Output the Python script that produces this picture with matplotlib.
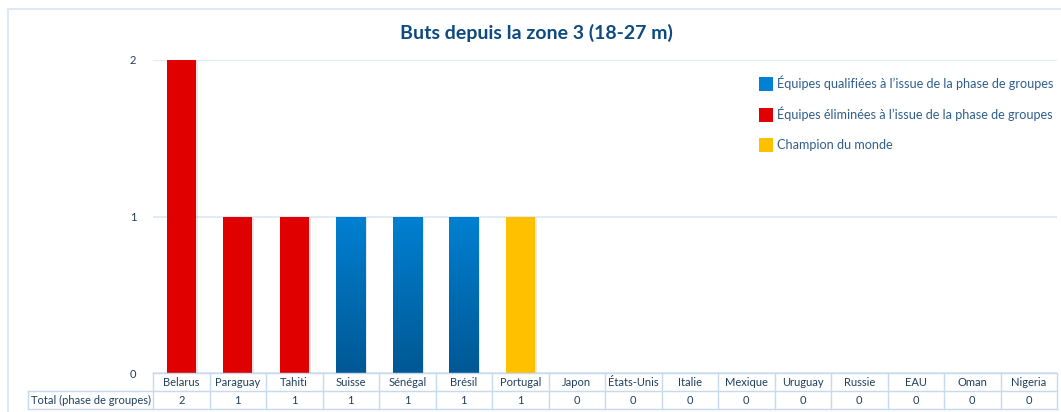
import numpy as np
import matplotlib
matplotlib.use("Agg")
import matplotlib.pyplot as plt
from matplotlib.patches import Patch
from matplotlib.lines import Line2D
from matplotlib import patheffects as pe
import matplotlib.transforms as mtransforms

# Data
countries = ["Belarus", "Paraguay", "Tahiti", "Suisse", "Sénégal", "Brésil", "Portugal",
             "Japon", "États-Unis", "Italie", "Mexique", "Uruguay", "Russie", "EAU",
             "Oman", "Nigeria"]
goals = [2, 1, 1, 1, 1, 1, 1, 0, 0, 0, 0, 0, 0, 0, 0, 0]
# 'e' = éliminée, 'q' = qualifiée, 'c' = champion
status = ["e", "e", "e", "q", "q", "q", "c", "q", "q", "e", "q", "q", "q", "e", "e", "e"]
title = "Buts depuis la zone 3 (18-27 m)"
row_label = "Total (phase de groupes)"
legend_labels = ["Équipes qualifiées à l\u2019issue de la phase de groupes",
                 "Équipes éliminées à l\u2019issue de la phase de groupes",
                 "Champion du monde"]

RED = "#e00000"
BLUE_TOP = "#0080d2"
BLUE_BOT = "#005894"
GOLD = "#ffc000"
GRID = "#dbe7f3"
TXT = "#1f3f60"

plt.rcParams["font.family"] = ["Lato", "DejaVu Sans"]

W, H = 1061, 412
fig = plt.figure(figsize=(W / 100, H / 100), dpi=100)

# plot area in pixels
x0, x1, ytop, ybot = 153, 1057, 60, 373
ax = fig.add_axes([x0 / W, (H - ybot) / H, (x1 - x0) / W, (ybot - ytop) / H])

x = np.arange(len(countries))
colors = [RED if s == "e" else GOLD if s == "c" else BLUE_TOP for s in status]
bars = ax.bar(x, goals, width=0.52, color=colors, zorder=3)
shadow = [pe.SimplePatchShadow(offset=(1.2, -0.8), alpha=0.1), pe.Normal()]
for b in bars:
    if b.get_height() > 0:
        b.set_path_effects(shadow)

# gradient for qualified teams
grad = np.linspace(0, 1, 256).reshape(-1, 1)
cmap = matplotlib.colors.LinearSegmentedColormap.from_list("bl", [BLUE_BOT, BLUE_TOP])
for b, s in zip(bars, status):
    if s == "q" and b.get_height() > 0:
        bx, bw, bh = b.get_x(), b.get_width(), b.get_height()
        im = ax.imshow(grad, cmap=cmap, origin="lower", aspect="auto",
                       extent=[bx, bx + bw, 0, bh], zorder=4)
        im.set_clip_path(b)

ax.set_xlim(-0.5, len(countries) - 0.5)
ax.set_ylim(0, 2)
ax.set_yticks([0, 1, 2])
ax.yaxis.grid(True, color=GRID, linewidth=1.2, zorder=0)
ax.set_axisbelow(True)
for sp in ax.spines.values():
    sp.set_visible(False)
ax.set_xticks([])
ax.tick_params(axis="y", length=0, pad=12, labelsize=8, labelcolor=TXT)

# table under the chart
trans = mtransforms.blended_transform_factory(ax.transData, ax.transAxes)
row_h = 18 / (ybot - ytop)
lab_left = -0.5 - (x0 - 28) / 56.5
n = len(countries)
tcol = "#c5daee"
# horizontal lines
ax.plot([-0.5, n - 0.5], [0, 0], transform=trans, color=tcol, lw=1, clip_on=False, zorder=5)
ax.plot([lab_left, n - 0.5], [-row_h, -row_h], transform=trans, color=tcol, lw=1, clip_on=False)
ax.plot([lab_left, n - 0.5], [-2 * row_h, -2 * row_h], transform=trans, color=tcol, lw=1, clip_on=False)
# vertical lines
for i in range(n + 1):
    ax.plot([i - 0.5, i - 0.5], [0, -2 * row_h], transform=trans, color=tcol, lw=1, clip_on=False)
ax.plot([lab_left, lab_left], [-row_h, -2 * row_h], transform=trans, color=tcol, lw=1, clip_on=False)
for i, (c, g) in enumerate(zip(countries, goals)):
    ax.text(i, -0.5 * row_h, c, transform=trans, ha="center", va="center", fontsize=8, color=TXT)
    ax.text(i, -1.5 * row_h, str(g), transform=trans, ha="center", va="center", fontsize=8, color=TXT)
ax.text(lab_left + 0.06, -1.5 * row_h, row_label, transform=trans, ha="left", va="center",
        fontsize=8, color=TXT)

# title
fig.text(536 / W, (H - 33) / H, title, ha="center", va="center", fontsize=14,
         fontweight="bold", color="#0d4a80")

# legend
handles = [Patch(facecolor=BLUE_TOP, edgecolor="none"),
           Patch(facecolor=RED, edgecolor="none"),
           Patch(facecolor=GOLD, edgecolor="none")]
leg = fig.legend(handles, legend_labels, loc="upper left",
                 bbox_to_anchor=(759 / W, (H - 76) / H), frameon=False,
                 fontsize=9.1, handlelength=1.1, handleheight=1.3, handletextpad=0.35,
                 labelspacing=1.25, borderpad=0, borderaxespad=0)
for t in leg.get_texts():
    t.set_color("#2f5e8c")

# outer frame
fig.add_artist(Line2D([8 / W, 8 / W], [0, (H - 9) / H], color="#dde9f5", lw=1.5))
fig.add_artist(Line2D([8 / W, 1], [(H - 9) / H, (H - 9) / H], color="#dde9f5", lw=1.5))

fig.savefig("out.png", dpi=100)
